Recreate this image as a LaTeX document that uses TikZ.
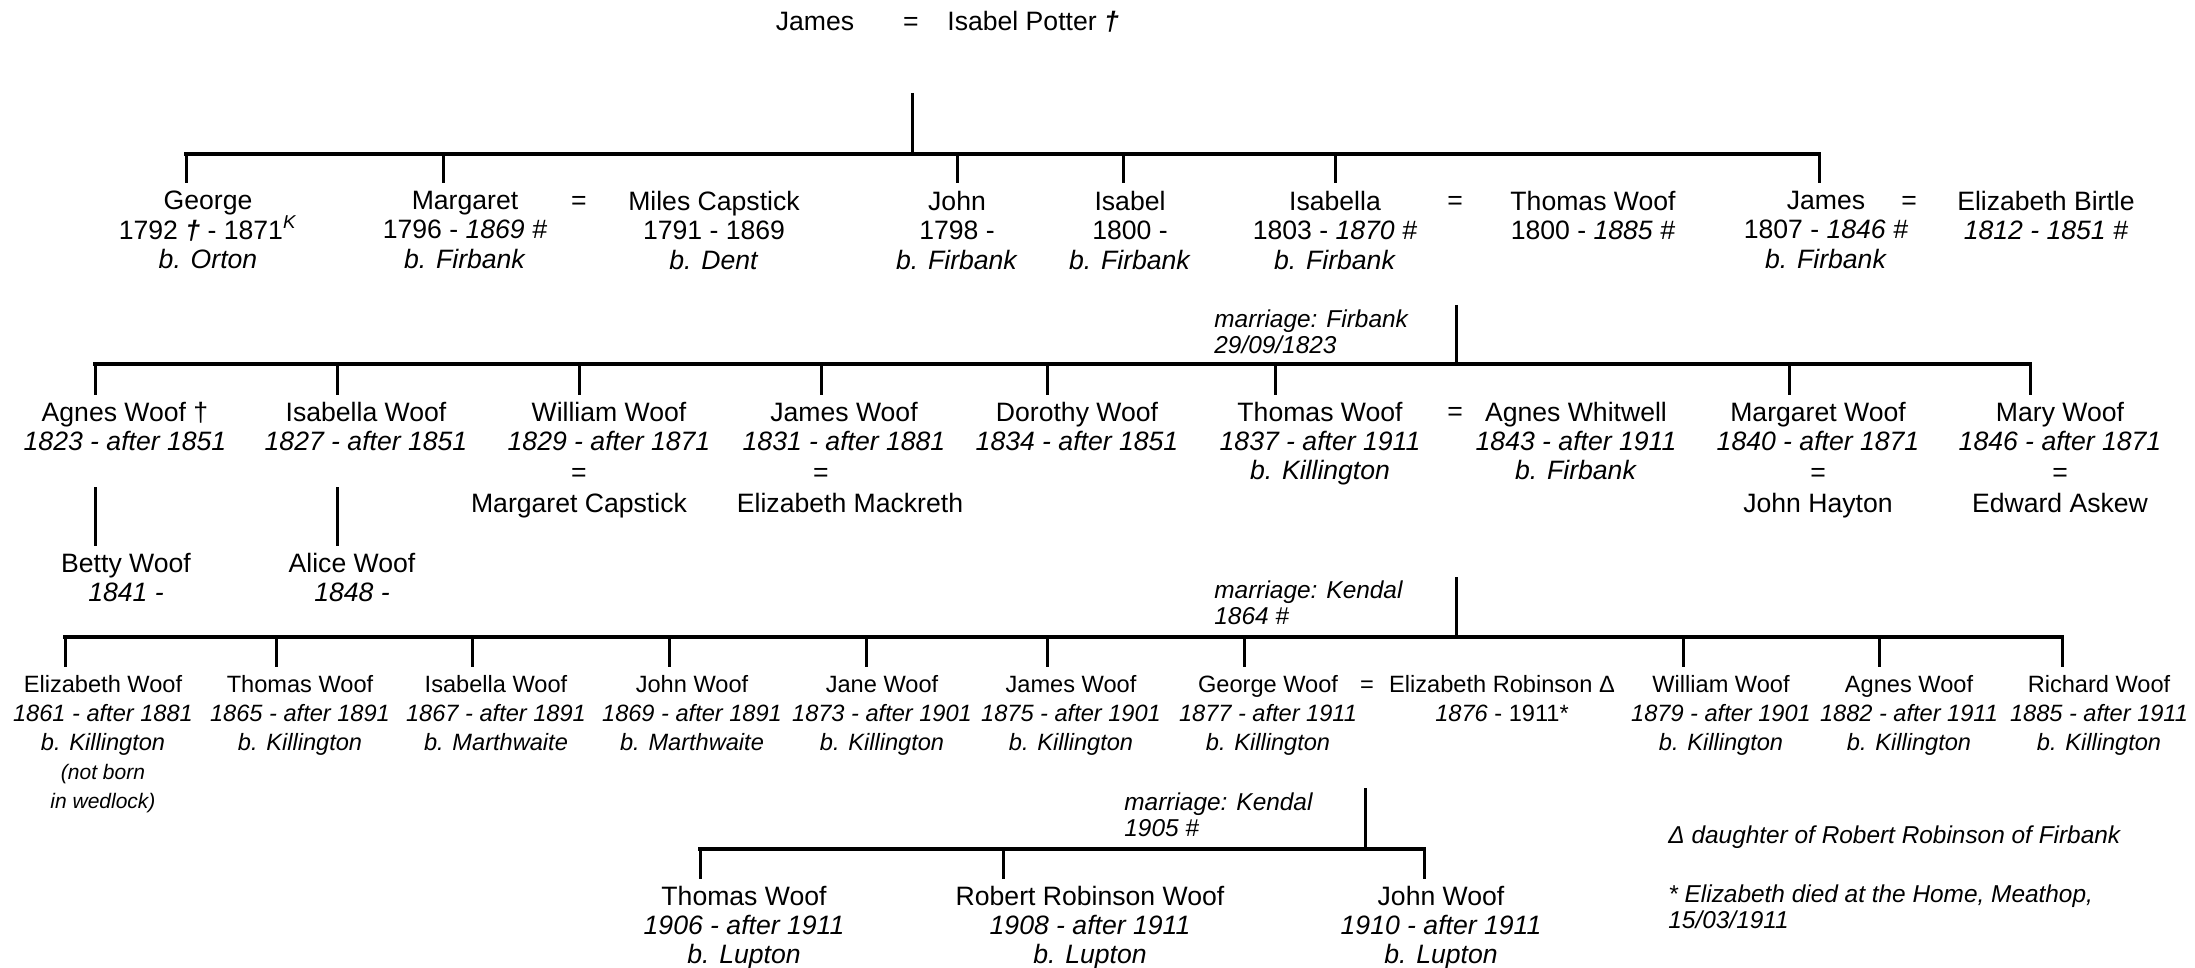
\documentclass[tikz,border=0pt]{standalone}
\usepackage{fontspec}
\setmainfont{Liberation Sans}
\newcommand{\dg}{\textbf{\textit{†}}}
\begin{document}
\begin{tikzpicture}[x=0.5pt,y=-0.5pt,
  person/.style={anchor=north, align=center, inner sep=0pt, font=\fontsize{13.3}{14.6}\selectfont},
  single/.style={anchor=base, inner sep=0pt, font=\fontsize{13.3}{14.6}\selectfont},
  smallp/.style={anchor=north, align=center, inner sep=0pt, font=\fontsize{11.8}{14.5}\selectfont},
  smalls/.style={anchor=base, inner sep=0pt, font=\fontsize{11.8}{14.5}\selectfont},
  mlabel/.style={anchor=north west, align=left, inner sep=0pt, font=\itshape\fontsize{12.2}{13.3}\selectfont},
  hbar/.style={line width=1.75pt, line cap=rect},
  vline/.style={line width=1.5pt}]
\useasboundingbox (0,0) rectangle (2195,968);

% ---------- generation 0 ----------
\node[single] (james0) at (815,30.5) {James};
\node[single] (eq0) at (911,30.5) {=};
\node[single, anchor=base west] (isabel0) at (947,30.5) {Isabel Potter \dg};

% ---------- generation 1 ----------
\node[person] (george) at (208,191) {George\\1792 \dg\ - 1871\textsuperscript{\textit{K}}\\\textit{b. Orton}};
\node[person] (margaret) at (465,191) {Margaret\\1796 - \textit{1869 \#}\\\textit{b. Firbank}};
\node[single] (eq1a) at (579,210) {=};
\node[person] (miles) at (714,191) {Miles Capstick\\1791 - 1869\\\textit{b. Dent}};
\node[person] (john) at (957,191) {John\\1798 -\\\textit{b. Firbank}};
\node[person] (isabel) at (1130,191) {Isabel\\1800 -\\\textit{b. Firbank}};
\node[person] (isabella) at (1335,191) {Isabella\\1803 - \textit{1870 \#}\\\textit{b. Firbank}};
\node[single] (eq1b) at (1455,210) {=};
\node[person] (thomas) at (1593,191) {Thomas Woof\\1800 - \textit{1885 \#}};
\node[person] (james) at (1826,191) {James\\1807 - \textit{1846 \#}\\\textit{b. Firbank}};
\node[single] (eq1c) at (1909,210) {=};
\node[person] (birtle) at (2046,191) {Elizabeth Birtle\\\textit{1812 - 1851 \#}};

\coordinate (p0top) at (912,93);
\coordinate (p0bar) at (912,154);
\coordinate (b1L) at (186,154);
\coordinate (b1R) at (1819,154);
\draw[vline] (p0top) -- (p0bar);
\draw[hbar] (b1L) -- (b1R);
\foreach \n/\x in {george/186, margaret/443, john/957, isabel/1123, isabella/1335, james/1819}{
  \coordinate (t-\n) at (\x,183);
  \draw[vline] (t-\n |- b1L) -- (t-\n);
}

% ---------- generation 2 ----------
\node[mlabel] (m1) at (1214,309) {marriage: Firbank\\29/09/1823};
\coordinate (m1top) at (1456,305);
\coordinate (m1bar) at (1456,364);
\coordinate (b2L) at (95,364);
\coordinate (b2R) at (2030,364);
\draw[vline] (m1top) -- (m1bar);
\draw[hbar] (b2L) -- (b2R);
\foreach \n/\x in {agnes/95, isabellaw/337, william/579, jamesw/821, dorothy/1047, thomasw/1275, margaretw/1789, mary/2030}{
  \coordinate (t-\n) at (\x,395);
  \draw[vline] (t-\n |- b2L) -- (t-\n);
}

\node[person] (agnes) at (125,401.5) {Agnes Woof †\\\textit{1823 - after 1851}};
\node[person] (isabellaw) at (366,401.5) {Isabella Woof\\\textit{1827 - after 1851}};
\node[person] (william) at (609,401.5) {William Woof\\\textit{1829 - after 1871}};
\node[single] (eq2a) at (579,481.5) {=};
\node[person] (mcap) at (579,492.5) {Margaret Capstick};
\node[person] (jamesw) at (844,401.5) {James Woof\\\textit{1831 - after 1881}};
\node[single] (eq2b) at (821,481.5) {=};
\node[person] (emack) at (850,492.5) {Elizabeth Mackreth};
\node[person] (dorothy) at (1077,401.5) {Dorothy Woof\\\textit{1834 - after 1851}};
\node[person] (thomasw) at (1320,401.5) {Thomas Woof\\\textit{1837 - after 1911}\\\textit{b. Killington}};
\node[single] (eq2c) at (1455,420.5) {=};
\node[person] (whitwell) at (1576,401.5) {Agnes Whitwell\\\textit{1843 - after 1911}\\\textit{b. Firbank}};
\node[person] (margaretw) at (1818,401.5) {Margaret Woof\\\textit{1840 - after 1871}};
\node[single] (eq2d) at (1818,481.5) {=};
\node[person] (hayton) at (1818,492.5) {John Hayton};
\node[person] (mary) at (2060,401.5) {Mary Woof\\\textit{1846 - after 1871}};
\node[single] (eq2e) at (2060,481.5) {=};
\node[person] (askew) at (2060,492.5) {Edward Askew};

\coordinate (a1) at (95,487);  \coordinate (a2) at (95,546);
\coordinate (c1) at (337,487); \coordinate (c2) at (337,546);
\draw[vline] (a1) -- (a2);
\draw[vline] (c1) -- (c2);
\node[person] (betty) at (126,552.5) {Betty Woof\\\textit{1841 -}};
\node[person] (alice) at (352,552.5) {Alice Woof\\\textit{1848 -}};

% ---------- generation 3 ----------
\node[mlabel] (m2) at (1214,580) {marriage: Kendal\\1864 \#};
\coordinate (m2top) at (1456,577);
\coordinate (m2bar) at (1456,637);
\coordinate (b3L) at (65,637);
\coordinate (b3R) at (2062,637);
\draw[vline] (m2top) -- (m2bar);
\draw[hbar] (b3L) -- (b3R);
\foreach \n/\x in {elizw/65, thomas3/276, isabella3/472, john3/669, jane/866, james3/1047, georgew/1244, william3/1683, agnes3/1879, richard/2062}{
  \coordinate (t-\n) at (\x,667);
  \draw[vline] (t-\n |- b3L) -- (t-\n);
}

\node[smallp] (elizw) at (103,675) {Elizabeth Woof\\\textit{1861 - after 1881}\\\textit{b. Killington}\\{\itshape\fontsize{10.5}{14.5}\selectfont (not born}\\{\itshape\fontsize{10.5}{14.5}\selectfont in wedlock)}};
\node[smallp] (thomas3) at (300,675) {Thomas Woof\\\textit{1865 - after 1891}\\\textit{b. Killington}};
\node[smallp] (isabella3) at (496,675) {Isabella Woof\\\textit{1867 - after 1891}\\\textit{b. Marthwaite}};
\node[smallp] (john3) at (692,675) {John Woof\\\textit{1869 - after 1891}\\\textit{b. Marthwaite}};
\node[smallp] (jane) at (882,675) {Jane Woof\\\textit{1873 - after 1901}\\\textit{b. Killington}};
\node[smallp] (james3) at (1071,675) {James Woof\\\textit{1875 - after 1901}\\\textit{b. Killington}};
\node[smallp] (georgew) at (1268,675) {George Woof\\\textit{1877 - after 1911}\\\textit{b. Killington}};
\node[smalls] (eq3) at (1367,692) {=};
\node[smallp] (elizr) at (1502,675) {Elizabeth Robinson Δ\\\textit{1876} - 1911*};
\node[smallp] (william3) at (1721,675) {William Woof\\\textit{1879 - after 1901}\\\textit{b. Killington}};
\node[smallp] (agnes3) at (1909,675) {Agnes Woof\\\textit{1882 - after 1911}\\\textit{b. Killington}};
\node[smallp] (richard) at (2099,675) {Richard Woof\\\textit{1885 - after 1911}\\\textit{b. Killington}};

% ---------- generation 4 ----------
\node[mlabel] (m3) at (1124,792) {marriage: Kendal\\1905 \#};
\coordinate (m3top) at (1365,788);
\coordinate (m3bar) at (1365,849);
\coordinate (b4L) at (700,849);
\coordinate (b4R) at (1424,849);
\draw[vline] (m3top) -- (m3bar);
\draw[hbar] (b4L) -- (b4R);
\foreach \n/\x in {thomas4/700, robert/1003, john4/1424}{
  \coordinate (t-\n) at (\x,879);
  \draw[vline] (t-\n |- b4L) -- (t-\n);
}
\node[person] (thomas4) at (744,885.5) {Thomas Woof\\\textit{1906 - after 1911}\\\textit{b. Lupton}};
\node[person] (robert) at (1090,885.5) {Robert Robinson Woof\\\textit{1908 - after 1911}\\\textit{b. Lupton}};
\node[person] (john4) at (1441,885.5) {John Woof\\\textit{1910 - after 1911}\\\textit{b. Lupton}};

% ---------- notes ----------
\node[mlabel, anchor=base west] (note1) at (1668,843) {Δ daughter of Robert Robinson of Firbank};
\node[mlabel] (note2) at (1668,884) {* Elizabeth died at the Home, Meathop,\\15/03/1911};
\end{tikzpicture}
\end{document}
